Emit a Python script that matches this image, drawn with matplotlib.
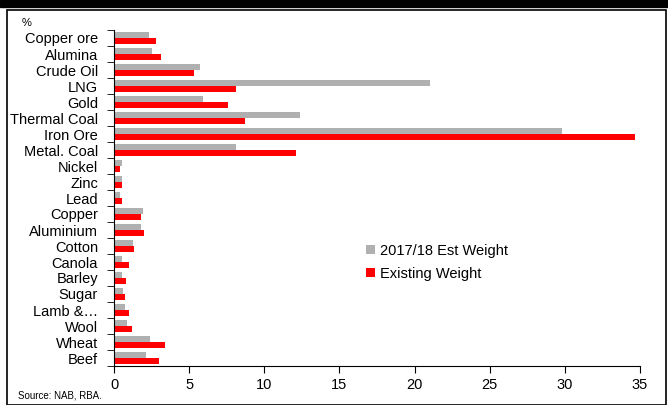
import matplotlib
matplotlib.use("Agg")
import matplotlib.pyplot as plt
from matplotlib.patches import Rectangle
import numpy as np

plt.rcParams['font.family'] = ['Liberation Sans', 'DejaVu Sans']

categories = ["Copper ore", "Alumina", "Crude Oil", "LNG", "Gold", "Thermal Coal",
              "Iron Ore", "Metal. Coal", "Nickel", "Zinc", "Lead", "Copper",
              "Aluminium", "Cotton", "Canola", "Barley", "Sugar", "Lamb &\u2026",
              "Wool", "Wheat", "Beef"]
est_weight = [2.3, 2.5, 5.7, 21.0, 5.9, 12.4, 29.8, 8.1, 0.5, 0.5, 0.4, 1.9,
              1.8, 1.26, 0.55, 0.55, 0.6, 0.73, 0.87, 2.37, 2.13]
existing_weight = [2.8, 3.1, 5.3, 8.1, 7.6, 8.7, 34.7, 12.1, 0.4, 0.5, 0.5, 1.8,
                   2.0, 1.3, 1.0, 0.8, 0.7, 1.0, 1.2, 3.37, 2.97]
xticks = [0, 5, 10, 15, 20, 25, 30, 35]

fig = plt.figure(figsize=(6.68, 4.05), dpi=100)
ax = fig.add_axes([114/668, 1 - 366/405, 526/668, 336/405])

n = len(categories)
y = np.arange(n)[::-1]
h = 0.36
ax.barh(y + h/2, est_weight, height=h, color="#b0b0b0", label="2017/18 Est Weight")
ax.barh(y - h/2, existing_weight, height=h, color="#ff0000", label="Existing Weight")

ax.set_xlim(0, 35)
ax.set_ylim(-0.5, n - 0.5)
ax.set_xticks(xticks)
ax.set_yticks(y)
ax.set_yticklabels(categories, fontsize=10.5)
ax.set_yticks(np.arange(n + 1) - 0.5, minor=True)
ax.tick_params(axis='y', which='major', length=0, pad=11.5)
ax.tick_params(axis='y', which='minor', length=5, direction='out')
ax.tick_params(axis='x', length=5, direction='out', labelsize=10.5)
for s in ["top", "right"]:
    ax.spines[s].set_visible(False)

ax.legend(loc="upper left", bbox_to_anchor=(0.455, 0.403), frameon=False,
          fontsize=10.5, handlelength=0.6, handleheight=0.6, handletextpad=0.3,
          labelspacing=0.62)

fig.text(22/668, 1 - 23/405, "%", fontsize=8, va="center")
fig.text(18/668, 1 - 396/405, "Source: NAB, RBA.", fontsize=7, va="center")

# black band on top and outer frame
fig.patches.append(Rectangle((0, 1 - 7/405), 1, 7/405, transform=fig.transFigure,
                             color="black", zorder=0))
fig.patches.append(Rectangle((7/668, 0), 659/668, 1 - 10/405, transform=fig.transFigure,
                             fill=False, edgecolor="black", linewidth=1.2, zorder=0))

fig.savefig("out.png", dpi=100)
